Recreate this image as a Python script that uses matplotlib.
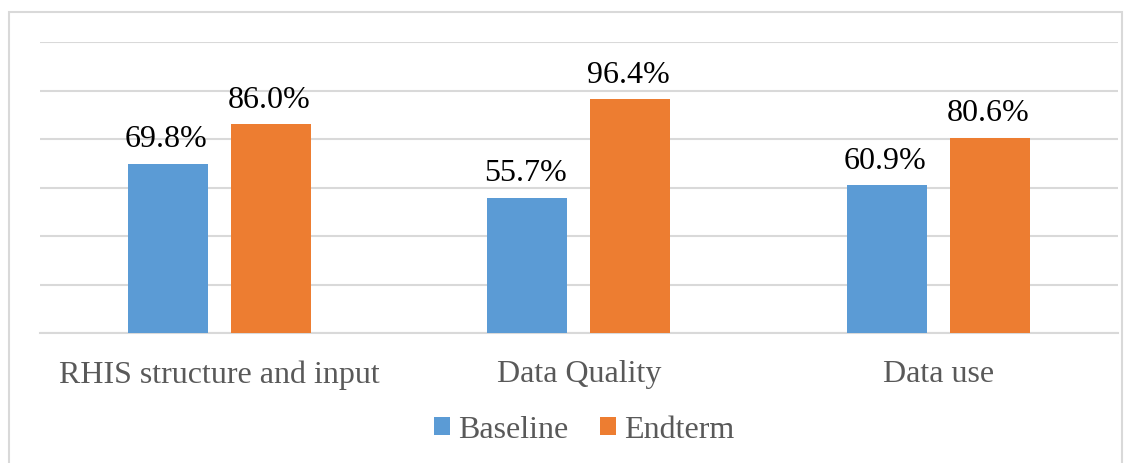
import numpy as np
import matplotlib
matplotlib.use("Agg")
import matplotlib.pyplot as plt
from matplotlib.patches import Rectangle

# Scores per component
categories = ["RHIS structure and input", "Data Quality", "Data use"]
baseline = [69.8, 55.7, 60.9]
endterm = [86.0, 96.4, 80.6]

plt.rcParams["font.family"] = ["Liberation Serif", "DejaVu Serif"]

W, H = 1132, 463
fig = plt.figure(figsize=(W / 100, H / 100), dpi=100)
ax = fig.add_axes([39.5 / W, 130 / H, (1118 - 39.5) / W, (421 - 130) / H])

x = np.arange(len(categories))
width = 0.222
offset = 0.143

b1 = ax.bar(x - offset, baseline, width, color="#5B9BD5", label="Baseline", zorder=3)
b2 = ax.bar(x + offset, endterm, width, color="#ED7D31", label="Endterm", zorder=3)

for bars, vals in ((b1, baseline), (b2, endterm)):
    for rect, v in zip(bars, vals):
        ax.annotate(f"{v:.1f}%", (rect.get_x() + rect.get_width() / 2, v),
                    xytext=(-1, 7), textcoords="offset points",
                    ha="center", va="bottom", fontsize=23, color="black")

ax.set_xlim(-0.5, len(categories) - 0.5)
ax.set_ylim(0, 120)
ax.set_yticks(np.arange(0, 121, 20))
ax.yaxis.grid(True, color="#d9d9d9", linewidth=1.5, zorder=0)
ax.tick_params(axis="y", left=False, labelleft=False)
ax.tick_params(axis="x", bottom=False, pad=16)
ax.set_xticks(x)
ax.set_xticklabels(categories, fontsize=23, color="#595959")
for side in ("top", "left", "right"):
    ax.spines[side].set_visible(False)
ax.spines["bottom"].set_color("#d9d9d9")
ax.spines["bottom"].set_linewidth(1.5)

fig.legend(handles=[b1, b2], loc="center", bbox_to_anchor=(584 / W, 1 - 430 / H),
           ncol=2, frameon=False, fontsize=23, labelcolor="#595959",
           handlelength=0.5, handleheight=0.5, handletextpad=0.25, columnspacing=1.0)

# outer chart border
fig.patches.append(Rectangle((9 / W, -0.05), (W - 10) / W - 9 / W, 1 - 12 / H + 0.05,
                             transform=fig.transFigure, fill=False,
                             edgecolor="#d9d9d9", linewidth=1.5))

fig.savefig("out.png", dpi=100)
